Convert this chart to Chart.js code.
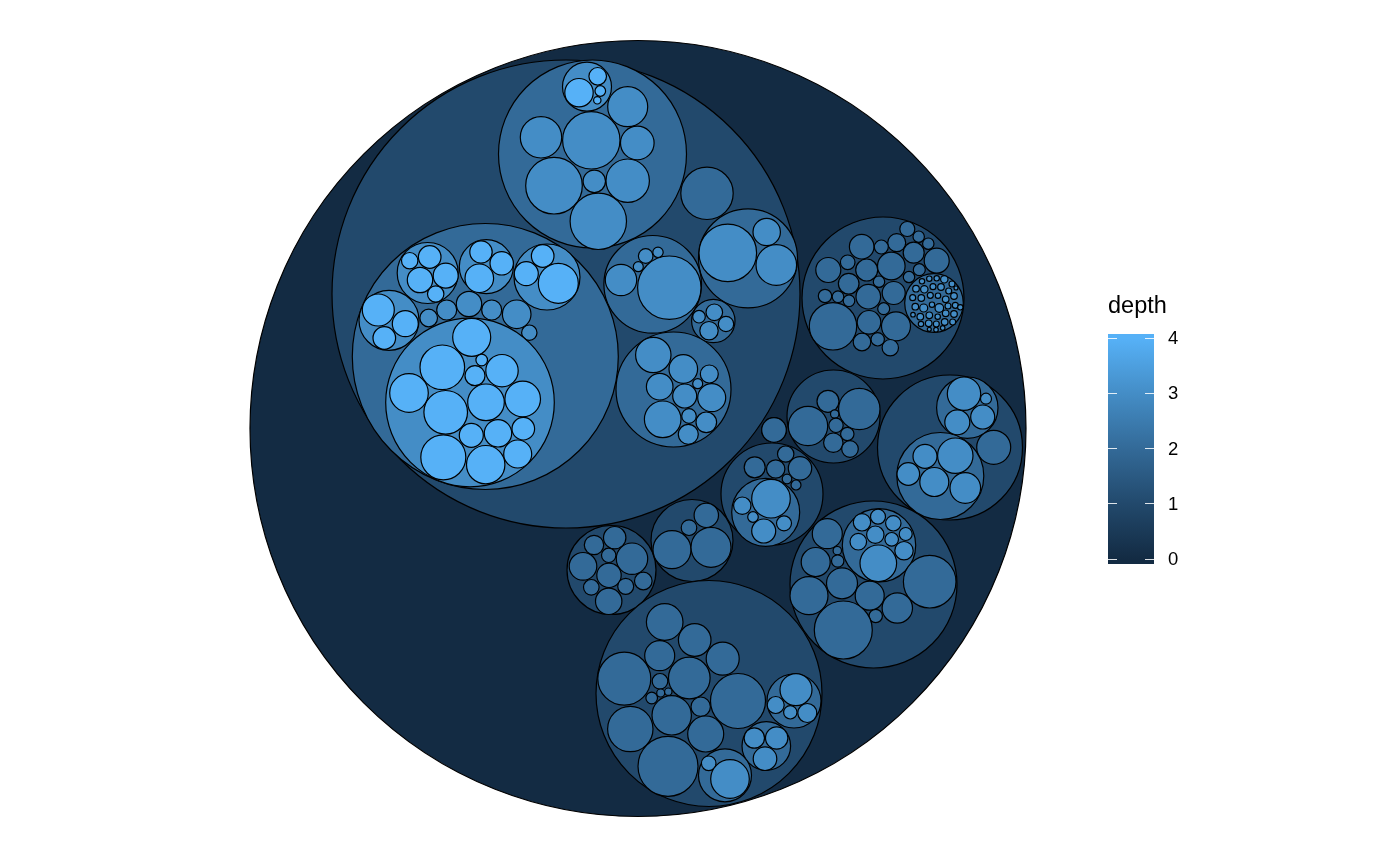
<!DOCTYPE html>
<html lang="en">
<head>
<meta charset="UTF-8">
<title>Circle pack by depth</title>
<style>
    body { margin: 0; background: #fff; font-family: "Liberation Sans", Arial, sans-serif; }
    #wrap { position: relative; width: 1400px; height: 865px; }
    #legendTitle { position: absolute; left: 1108px; top: 293.6px; font-size: 23.5px; line-height: 23.5px; color: #000; }
    #bar { position: absolute; left: 1107.5px; top: 334px; width: 46px; height: 230px; }
    .tick { position: absolute; width: 9px; height: 1px; background: rgba(255, 255, 255, 0.85); }
    .lab { position: absolute; left: 1168px; font-size: 18.5px; line-height: 18.5px; color: #000; }
</style>
</head>
<body>
<div id="wrap">
    <canvas id="pack" width="1400" height="865"></canvas>
    <div id="legendTitle">depth</div>
    <div id="bar"></div>
</div>
<script src="https://cdn.jsdelivr.net/npm/chart.js@4.4.1/dist/chart.umd.min.js"></script>
<script>
    // circle pack layout, one list per depth: [x, y, radius] in layout units
    const depthTicks = [0, 1, 2, 3, 4];
    const depthColors = ['#132B43', '#22496C', '#336A98', '#448DC6', '#56B1F7'];

    const depth0 = [[638, 428.5, 388]];

    const depth1 = [
        [566, 294, 234], [883, 298, 81], [833.5, 416.5, 46.5], [950, 447.5, 72.5],
        [772, 494, 51], [873.5, 584.5, 83.5], [611.5, 570, 44.5], [692, 540.5, 41],
        [709, 693.5, 113], [774, 430, 12.3]
    ];

    const depth2 = [
        // in the big top-left node
        [592.5, 154, 94], [707, 193.3, 26.2], [748, 258.3, 49.5], [652.7, 284.3, 48.8],
        [713.3, 321, 21.7], [673.5, 389.5, 57.5], [485.3, 356.5, 133],
        // upper right node
        [934, 303, 29.3], [907.3, 229, 7.5], [918.7, 236.7, 5.7], [928.3, 243.7, 5.7],
        [896.7, 242.7, 9], [861.7, 246.7, 12.3], [881.3, 247, 7], [913.7, 252.7, 10.5],
        [936.7, 260.7, 12.5], [847.7, 262.3, 7.3], [828.3, 270, 12.5], [866.7, 270, 11],
        [891.3, 266, 13.8], [919.3, 269.7, 6], [909, 277, 5.7], [848.7, 283.7, 10.3],
        [879, 281.7, 5.7], [893.7, 293, 11.5], [868.3, 296.7, 12.3], [825, 296, 6.7],
        [838, 296.7, 5.8], [849, 300.7, 5.8], [883.7, 308.7, 6], [833, 326.3, 23.7],
        [869, 322.3, 11.8], [896, 326.3, 14.5], [862, 342, 8.8], [877.7, 339.3, 6.7],
        [890.3, 347.7, 8.2],
        // middle right
        [859.3, 409, 20.7], [808, 426, 19.7], [828, 401.3, 11], [834.7, 414, 4.2],
        [836, 425.3, 7.2], [847.3, 434, 6.7], [833.3, 442.7, 9.7], [850, 449, 8.3],
        [967.3, 407.7, 30.7], [993.7, 447.3, 17], [940.3, 476, 43.5],
        [754.7, 467.3, 10.5], [785.7, 454, 8.2], [775.7, 469, 9.2], [800, 468.3, 11.7],
        [787, 479, 4.8], [796, 485, 5], [765.7, 512.3, 34],
        [774, 430, 12.3],
        // lower right
        [879, 545.3, 36.7], [827.3, 533.7, 15], [837.3, 550.7, 4.2], [837.7, 561, 6.2],
        [815.7, 562, 14.5], [842, 583.3, 15.5], [809, 595.7, 19], [869.7, 595.7, 14.5],
        [929.7, 581.7, 26.3], [897.3, 608, 15.2], [875.7, 616, 6.7], [843.3, 630, 29],
        // lower left small nodes
        [594, 545, 9.7], [614.7, 537.7, 11.2], [608.7, 555.3, 7.2], [632, 558.7, 15.7],
        [583, 566.3, 13.8], [609, 575.3, 12.2], [591.3, 587.3, 7.8], [625.7, 586.3, 8],
        [643.3, 581, 8.8], [608.7, 601.3, 13.2],
        [672, 549.7, 19], [711, 547.3, 20], [706.3, 515.3, 12.2], [689, 527.7, 7.8],
        // bottom node
        [664.7, 622, 18.3], [694.7, 640, 16.3], [659.7, 655.7, 15], [722.7, 658.7, 16.5],
        [624.3, 678.7, 26.5], [689.3, 678, 20.8], [660, 681.3, 7.8], [651.7, 698, 5.8],
        [660.7, 693, 4], [668.3, 691.7, 3.7], [738, 701, 27.5], [700.7, 706.7, 9.7],
        [671.7, 715.3, 19.7], [630.3, 729, 22.7], [705.7, 734, 18], [668, 766.3, 30],
        [794, 701, 27], [766.3, 746, 24.3], [725, 775.3, 26.5]
    ];

    const depth3 = [
        [587, 86.7, 24.5], [627.7, 106.7, 20], [541, 137.3, 20.7], [591.3, 140.3, 28.7],
        [637.3, 143, 16.8], [554, 185.7, 28.3], [594.3, 181.3, 11.2], [627.7, 180.7, 21.7],
        [598.3, 221.3, 28.2],
        [727.8, 252.9, 28.8], [766.7, 232, 13.7], [776.3, 265, 20.3],
        [669.3, 287.7, 31.7], [621, 280, 15.7], [645.7, 256, 7.3], [658, 252.3, 5.2],
        [638.3, 266.7, 5],
        [714.3, 312.3, 8.3], [699, 316.7, 6.3], [726, 324, 7.7], [709, 330.7, 9.2],
        [653.3, 355, 17.7], [683.3, 369, 14.3], [709.3, 374, 9], [659.7, 386.7, 13.3],
        [684.7, 396, 12], [697.7, 383.7, 5], [711.7, 397.7, 14], [662.7, 419.3, 18.3],
        [689, 416, 7.3], [706.3, 422.3, 10.3], [688.3, 434.3, 10],
        [427.7, 273, 30.5], [486.3, 266.7, 27], [547, 277, 33], [389, 320.3, 30],
        [428.7, 318, 8.8], [446.7, 310, 10], [469, 304, 12.7], [491.7, 310, 10],
        [516.7, 314.3, 14.3], [529.3, 332.7, 7.7], [470, 402.5, 84.3],
        // the crowded node at the upper right
        [922, 281.3, 2.7], [929.3, 278.7, 2.7], [936.7, 278.3, 2.7], [944.3, 279.3, 3.7],
        [952, 284, 3], [916, 288.7, 3.3], [924.3, 289.3, 3.7], [933, 286.7, 3],
        [941, 287, 3.3], [948.7, 291, 3], [956, 288, 2], [912.7, 297.7, 3],
        [921.3, 298, 3.3], [930.3, 295.3, 3], [938, 295.7, 2.7], [945.7, 299.3, 3.3],
        [954, 296, 3.3], [915.3, 306.7, 3.3], [923.7, 308, 4], [932, 304.7, 2.7],
        [939.3, 308, 4.3], [948, 306, 3], [955.3, 305.3, 3], [960.3, 307.3, 2.7],
        [913, 314.7, 2.3], [920.3, 316.7, 3.3], [929.3, 315.3, 3.3], [937.7, 316.7, 2.7],
        [945.7, 313.3, 3.3], [954, 314, 3.3], [921, 324, 2.7], [928.7, 323.3, 3.3],
        [936.3, 324, 3], [944.7, 322, 3.3], [952.7, 322, 3], [929.3, 329.3, 2],
        [936, 329.7, 2.3], [942.7, 328, 2.3],
        [964, 393.7, 16.7], [986, 398.7, 5.5], [982.7, 417, 12], [957.3, 422.3, 12.5],
        [925, 456.3, 12], [955.3, 455.7, 17.7], [908.3, 474, 11.3], [934.3, 482, 14.5],
        [965.3, 488, 15.3],
        [771, 498.7, 19.3], [742.3, 505.7, 8.7], [753, 517, 5.3], [763.7, 531, 12],
        [784, 523.3, 7.5],
        [862, 522.3, 8.7], [878, 516.7, 7.5], [893.3, 523.3, 7.7], [875.3, 534.7, 8.7],
        [891.7, 539.3, 6.8], [905.7, 534, 6.5], [858.3, 541.7, 8.3], [904, 550.7, 9.2],
        [878.3, 563.3, 18.3],
        [796, 689.7, 16], [775.7, 705, 8.5], [790.3, 712.3, 6.7], [807.3, 713, 9.5],
        [754.3, 738, 10.2], [776.7, 738, 11.2], [765, 758.7, 11.8],
        [708.7, 763.3, 7.3], [730, 779, 19.3]
    ];

    const depth4 = [
        [579, 92.7, 14.2], [597.7, 76.3, 8.8], [600.3, 91, 5.3], [597.3, 100.3, 3.7],
        [409.7, 260.7, 8.2], [429.7, 257, 11.3], [420, 280, 12.7], [445.7, 275.7, 12.5],
        [435.7, 294, 8.2],
        [481, 252, 11.2], [501.7, 263.3, 11.7], [479.3, 278.3, 14.3],
        [542.7, 256, 11.3], [526.3, 273.7, 12], [558.3, 283.3, 20],
        [378.3, 310, 16], [405.3, 323.7, 13], [384.3, 338, 11.3],
        [471.7, 337.3, 19], [481.7, 360, 5.8], [442.3, 367.3, 22.3], [502, 370.7, 16.2],
        [475, 375.7, 10], [409, 393, 19.3], [445.7, 412.3, 21.8], [486, 402.3, 18.3],
        [522.7, 399, 17.8], [471.3, 435.3, 12], [498, 433.3, 13.7], [523.3, 428.7, 11.3],
        [443.3, 457.3, 22.5], [485.7, 464.7, 19.2], [517.7, 454, 14]
    ];

    const levels = [depth0, depth1, depth2, depth3, depth4];

    // radius is in layout units, turned into pixels by the x scale
    function circleRadius(ctx) {
        if (!ctx.raw) return 0;
        const sx = ctx.chart.scales.x;
        return Math.abs(sx.getPixelForValue(ctx.raw.x + ctx.raw.size) - sx.getPixelForValue(ctx.raw.x));
    }

    const datasets = levels.map((circles, d) => ({
        label: 'depth ' + depthTicks[d],
        data: circles.map(c => ({x: c[0], y: c[1], size: c[2]})),
        backgroundColor: depthColors[d],
        borderColor: '#000000',
        borderWidth: 1.2,
        radius: circleRadius,
        hoverRadius: 0,
        hitRadius: 0,
        clip: false,
        order: depthTicks.length - 1 - d
    }));

    new Chart(document.getElementById('pack'), {
        type: 'bubble',
        data: {datasets: datasets},
        options: {
            responsive: false,
            animation: false,
            events: [],
            parsing: false,
            layout: {padding: 0},
            plugins: {legend: {display: false}, tooltip: {enabled: false}},
            scales: {
                x: {type: 'linear', display: false, min: 0, max: 1400},
                y: {type: 'linear', display: false, min: 0, max: 865, reverse: true}
            }
        }
    });

    // colour bar legend
    const bar = document.getElementById('bar');
    const barTop = 334, barHeight = 230, tickTop = 338.3, tickBottom = 559;
    const step = (tickBottom - tickTop) / (depthTicks.length - 1);
    let stops = [];
    depthTicks.forEach((t, i) => {
        const y = tickBottom - i * step;
        stops.push(depthColors[i] + ' ' + ((y - barTop) / barHeight * 100).toFixed(1) + '%');
    });
    stops.reverse();
    bar.style.background = 'linear-gradient(to bottom, ' + depthColors[4] + ' 0%, ' + stops.join(', ') + ', ' + depthColors[0] + ' 100%)';

    const wrap = document.getElementById('wrap');
    depthTicks.forEach((t, i) => {
        const y = tickBottom - i * step;
        ['1107.5px', '1144.5px'].forEach(left => {
            const tk = document.createElement('div');
            tk.className = 'tick';
            tk.style.left = left;
            tk.style.top = (y - 0.5) + 'px';
            wrap.appendChild(tk);
        });
        const lab = document.createElement('div');
        lab.className = 'lab';
        lab.style.top = (y - 9) + 'px';
        lab.innerText = t;
        wrap.appendChild(lab);
    });
</script>
</body>
</html>
